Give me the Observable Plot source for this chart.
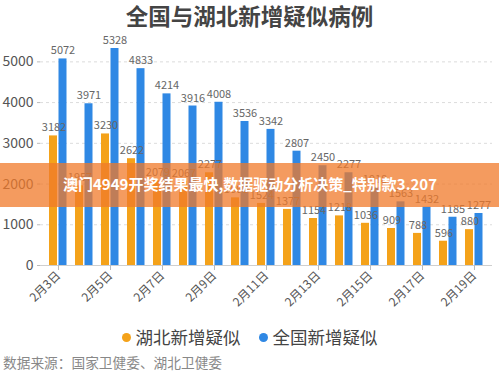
<!DOCTYPE html>
<html>
<head>
<meta charset="utf-8">
<script src="https://cdn.jsdelivr.net/npm/d3@7"></script>
<script src="https://cdn.jsdelivr.net/npm/@observablehq/plot@0.6"></script>
<style>
  html, body { margin:0; padding:0; background:#fff; width:499px; height:375px; overflow:hidden; font-family:"Noto Sans CJK SC","Noto Sans",sans-serif; }
  #wrap { position:relative; width:499px; height:375px; }
  #chart { position:absolute; left:0; top:0; }
  .title { position:absolute; left:0; width:499px; top:0px; text-align:center; font-size:22.5px; font-weight:bold; color:#444; line-height:30px; }
  .legend { position:absolute; left:0; width:499px; top:325px; text-align:center; font-size:17.5px; color:#444; line-height:24px; }
  .legend span.dot { display:inline-block; width:9px; height:9px; border-radius:50%; margin-right:5px; vertical-align:2px; }
  .legend .item { margin:0 9px; }
  .source { position:absolute; left:3px; top:352px; font-size:13.7px; color:#888; line-height:20px; }
  .banner { position:absolute; left:0; top:163px; width:499px; height:44px; background:rgba(240,122,42,0.75); }
  .banner div { position:absolute; left:63px; top:11px; color:#fff; font-weight:bold; font-size:15px; line-height:20px; white-space:nowrap; }
</style>
</head>
<body>
<div id="wrap">
  <div id="chart"></div>
  <div class="title">全国与湖北新增疑似病例</div>
  <div class="legend"></div>
  <div class="source">数据来源：国家卫健委、湖北卫健委</div>
  <div class="banner"><div>澳门4949开奖结果最快,数据驱动分析决策_特别款3.207</div></div>
</div>
<script>
const dates = ["2月3日","2月4日","2月5日","2月6日","2月7日","2月8日","2月9日","2月10日","2月11日","2月12日","2月13日","2月14日","2月15日","2月16日","2月17日","2月18日","2月19日"];
const hubei = [3182,1957,3230,2622,2079,2067,2277,1661,1524,1377,1154,1218,1036,909,788,596,880];
const national = [5072,3971,5328,4833,4214,3916,4008,3536,3342,2807,2450,2277,1918,1563,1432,1185,1277];
const seriesNames = ["湖北新增疑似","全国新增疑似"];
const seriesColors = ["#f4a21a","#2f88e4"];
const yTicks = [0,1000,2000,3000,4000,5000];
const labeledDates = dates.filter((d,i)=>i%2===0);

const rows = dates.map((d,i)=>({date:d, hubei:hubei[i], national:national[i]}));

const chart = Plot.plot({
  width: 499,
  height: 312,
  marginLeft: 40,
  marginRight: 7,
  marginTop: 41,
  marginBottom: 47,
  style: {fontFamily:"'Noto Sans CJK SC','Noto Sans',sans-serif", background:"transparent", color:"#555"},
  x: {domain: dates, padding: 0, axis: null, label: null},
  y: {domain: [0,5500], axis: null, label: null},
  marks: [
    Plot.ruleY(yTicks.filter(d=>d>0), {stroke:"#dcdcdc", strokeDasharray:"3,3"}),
    Plot.barY(rows, {x:"date", y:"hubei", fill:seriesColors[0], insetLeft:4, insetRight:14}),
    Plot.barY(rows, {x:"date", y:"national", fill:seriesColors[1], insetLeft:13.5, insetRight:4.5}),
    Plot.ruleY([0], {stroke:"#cfcfcf"}),
    Plot.text(rows, {x:"date", y:"hubei", text:d=>String(d.hubei), dx:-4.5, dy:-8, fill:"#666", fontSize:11}),
    Plot.text(rows, {x:"date", y:"national", text:d=>String(d.national), dx:4.5, dy:-8, fill:"#666", fontSize:11}),
    Plot.axisY({ticks: yTicks, tickFormat: d=>String(d), tickSize: 3, tickPadding: 4, fontSize: 14, stroke:"#bbb", fill:"#555", label: null}),
    Plot.axisX({ticks: labeledDates, tickRotate: -45, tickSize: 5, tickPadding: 3, fontSize: 12, stroke:"#bbb", fill:"#555", label: null})
  ]
});
document.getElementById("chart").appendChild(chart);

const legend = document.querySelector(".legend");
legend.innerHTML = seriesNames.map((n,i)=>`<span class="item"><span class="dot" style="background:${seriesColors[i]}"></span>${n}</span>`).join("");
</script>
</body>
</html>
